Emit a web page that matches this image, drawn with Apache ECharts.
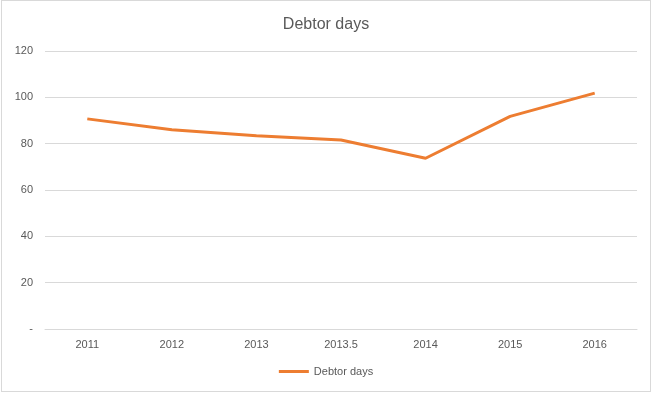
<!DOCTYPE html>
<html><head><meta charset="utf-8">
<script src="https://cdn.jsdelivr.net/npm/echarts@6/dist/echarts.min.js"></script>
<style>html,body{margin:0;padding:0;background:#fff;}#c{position:absolute;left:1px;top:0px;width:650px;height:392px;border:1px solid #d9d9d9;box-sizing:border-box;}</style>
</head><body><div id="c"></div>
<script>
const categories = ['2011','2012','2013','2013.5','2014','2015','2016'];
const debtorDays = [90.7, 86.0, 83.4, 81.6, 73.7, 91.8, 101.8];
const yTicks = [0,20,40,60,80,100,120];
const chart = echarts.init(document.getElementById('c'));
chart.setOption({
  animation:false,
  title:{text:'Debtor days',left:'center',top:11,textStyle:{fontFamily:'Liberation Sans',fontSize:16,fontWeight:'normal',color:'#595959'}},
  grid:{left:43,right:13,top:50,bottom:62},
  legend:{bottom:9,left:'center',itemWidth:30,itemHeight:3,icon:'rect',itemGap:4,textStyle:{fontFamily:'Liberation Sans',fontSize:11,color:'#595959'},data:['Debtor days']},
  xAxis:{type:'category',data:categories,boundaryGap:true,
    axisLine:{lineStyle:{color:'#d9d9d9'}},axisTick:{show:false},
    axisLabel:{fontFamily:'Liberation Sans',fontSize:11,color:'#595959',margin:10}},
  yAxis:{type:'value',min:yTicks[0],max:yTicks[yTicks.length-1],interval:20,
    axisLine:{show:false},axisTick:{show:false},
    splitLine:{lineStyle:{color:'#d9d9d9'}},
    axisLabel:{fontFamily:'Liberation Sans',fontSize:11,color:'#595959',margin:12,
      formatter:v=>v===0?'-':String(v)}},
  series:[{name:'Debtor days',type:'line',data:debtorDays,symbol:'none',
    lineStyle:{color:'#ED7D31',width:3},itemStyle:{color:'#ED7D31'}}]
});
</script></body></html>
